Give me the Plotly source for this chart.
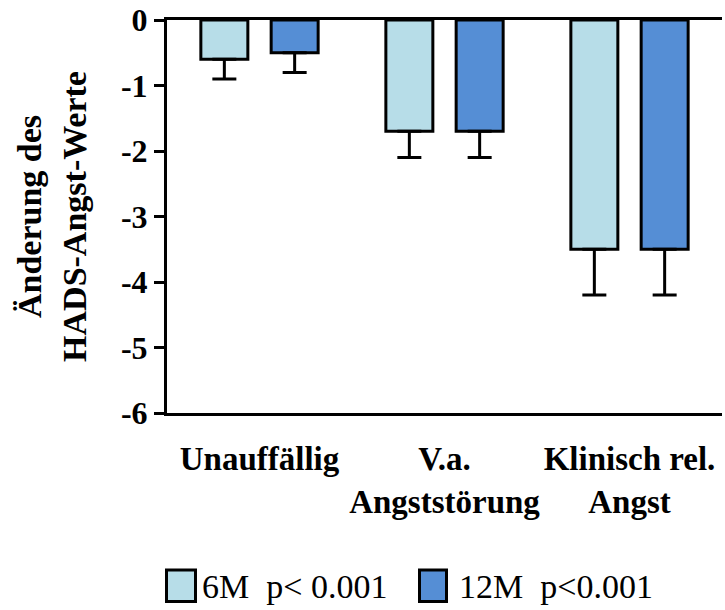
import plotly.graph_objects as go

# Category labels (x axis), series and values
categories = ["Unauffällig", "V.a.<br>Angststörung", "Klinisch rel.<br>Angst"]
series_names = ["6M  p< 0.001", "12M  p<0.001"]
change_6m = [-0.6, -1.7, -3.5]
change_12m = [-0.5, -1.7, -3.5]
err_6m = [0.3, 0.4, 0.7]
err_12m = [0.3, 0.4, 0.7]
y_ticks = [0, -1, -2, -3, -4, -5, -6]

# Styling
W, H = 725, 610
L, R, T, B = 167, 3, 20, 197
PW, PH = W - L - R, H - T - B
FONT = "Liberation Serif, Times New Roman, serif"
colors = ["#B7DDE8", "#558ED5"]
offsets = [-0.317, 0.063]
bar_width = 0.254

fig = go.Figure()
for name, vals, errs, color, off in zip(series_names, [change_6m, change_12m],
                                        [err_6m, err_12m], colors, offsets):
    fig.add_trace(go.Bar(
        x=categories, y=vals, name=name, width=bar_width, offset=off,
        marker=dict(color=color, line=dict(color="black", width=3)),
        error_y=dict(type="data", symmetric=False, array=[0] * len(errs),
                     arrayminus=errs, color="black", thickness=3, width=12),
        showlegend=False,
    ))


def px_x(p):
    return (p - L) / PW


def px_y(p):
    return (H - B - p) / PH


# Legend drawn as large boxed squares with labels under the plot
legend_boxes = [(166.5, 195.5), (419.5, 446.5)]
legend_text_x = [200, 457]
shapes, annotations = [], []
for (x0, x1), tx, color, name in zip(legend_boxes, legend_text_x, colors, series_names):
    shapes.append(dict(type="rect", xref="paper", yref="paper",
                       x0=px_x(x0), x1=px_x(x1), y0=px_y(601.5), y1=px_y(570),
                       fillcolor=color, line=dict(color="black", width=3)))
    annotations.append(dict(text=name, xref="paper", yref="paper",
                            x=px_x(tx), y=px_y(586), xanchor="left", yanchor="middle",
                            showarrow=False, font=dict(family=FONT, size=34, color="black")))

fig.update_layout(
    width=W, height=H,
    margin=dict(l=L, r=R, t=T, b=B, autoexpand=False),
    paper_bgcolor="white", plot_bgcolor="white",
    barmode="overlay",
    font=dict(family=FONT, color="black"),
    shapes=shapes, annotations=annotations,
    xaxis=dict(
        range=[-0.5, 2.5], showline=True, linecolor="black", linewidth=3,
        mirror=True, ticks="", showgrid=False, zeroline=False, tickangle=0,
        tickfont=dict(family=FONT, size=33, color="black", weight="bold"),
        ticklabelstandoff=14,
    ),
    yaxis=dict(
        range=[-6, 0], showline=True, linecolor="black", linewidth=3,
        ticks="outside", ticklen=10, tickwidth=3, tickcolor="black",
        tickvals=y_ticks, ticktext=[str(v) for v in y_ticks],
        showgrid=False, zeroline=False,
        tickfont=dict(family=FONT, size=32, color="black", weight="bold"),
        title=dict(text="Änderung des<br>HADS-Angst-Werte", standoff=25,
                   font=dict(family=FONT, size=34, color="black", weight="bold")),
    ),
)

fig.write_html("out.html")
